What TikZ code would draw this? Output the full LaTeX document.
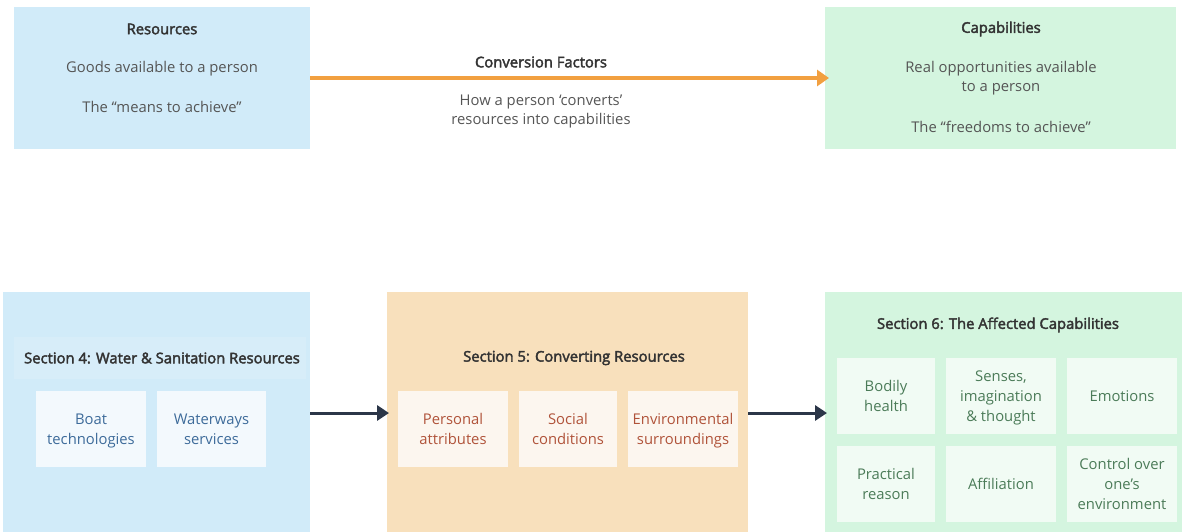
\documentclass[tikz,border=0pt]{standalone}
\usepackage{fontspec}
\setmainfont{Open Sans}[BoldFont={Open Sans}, BoldFeatures={FakeBold=2.6}]
\usetikzlibrary{arrows.meta}
\definecolor{blueBg}{HTML}{D1EBF9}
\definecolor{greenBg}{HTML}{D4F5DF}
\definecolor{orangeBg}{HTML}{F8E0BC}
\definecolor{blueIn}{HTML}{F3F9FD}
\definecolor{orangeIn}{HTML}{FCF6EF}
\definecolor{greenIn}{HTML}{F1FBF4}
\definecolor{blueTxt}{HTML}{3D6B9A}
\definecolor{orangeTxt}{HTML}{B0533A}
\definecolor{greenTxt}{HTML}{4B7B58}
\definecolor{titleTxt}{HTML}{333333}
\definecolor{bodyTxt}{HTML}{555555}
\definecolor{orangeArr}{HTML}{F2A040}
\definecolor{darkArr}{HTML}{2B3648}
\begin{document}
\begin{tikzpicture}[x=1pt,y=-1pt,
  every node/.style={inner sep=0pt, outer sep=0pt, font=\fontsize{14.8}{19}\selectfont},
  panel/.style={anchor=north west, draw=none},
  ttl/.style={text=titleTxt, font=\fontsize{14.8}{19}\selectfont\bfseries},
  body/.style={text=bodyTxt, align=center},
  item/.style={anchor=north west, align=center, text depth=0pt, font=\fontsize{14.8}{20}\selectfont},
  bitem/.style={item, fill=blueIn, text=blueTxt, minimum width=110pt, minimum height=76pt},
  oitem/.style={item, fill=orangeIn, text=orangeTxt, minimum height=76pt},
  gitem/.style={item, fill=greenIn, text=greenTxt, minimum height=76pt},
  oarr/.style={draw=orangeArr, line width=4pt, -{Triangle[length=12pt,width=16pt]}},
  darr/.style={draw=darkArr, line width=3pt, -{Triangle[length=12pt,width=15pt]}}
]
\useasboundingbox (0,0) rectangle (1182,531);

% top row
\node[panel, fill=blueBg, minimum width=296pt, minimum height=142pt] (res) at (14,7) {};
\node[panel, fill=greenBg, minimum width=351pt, minimum height=142pt] (cap) at (825,7) {};
\node[ttl] (resT) at (162,29) {Resources};
\node[body] (res1) at (162,69) {Goods available to a person};
\node[body] (res2) at (162,107) {The “means to achieve”};
\node[ttl] (capT) at (1001,29) {Capabilities};
\node[body] (cap1) at (1001,78.5) {Real opportunities available\\to a person};
\node[body] (cap2) at (1001,127) {The “freedoms to achieve”};
\draw[oarr] (res.east) -- ([xshift=4pt]cap.west);
\node[ttl] (cfT) at (541,62) {Conversion Factors};
\node[body] (cf1) at (541,111.5) {How a person ‘converts’\\resources into capabilities};

% bottom row
\node[panel, fill=blueBg, minimum width=307pt, minimum height=250pt] (s4) at (3,292) {};
\node[panel, fill=orangeBg, minimum width=361pt, minimum height=250pt] (s5) at (387,292) {};
\node[panel, fill=greenBg, minimum width=360pt, minimum height=250pt] (s6) at (825,292) {};
\node[panel, fill=blueIn, fill opacity=0.18, minimum width=292pt, minimum height=42pt] (s4band) at (14,337) {};
\node[ttl] (s4T) at (162,358) {Section 4: Water \& Sanitation Resources};
\node[ttl] (s5T) at (574,358) {Section 5: Converting Resources};
\node[ttl] (s6T) at (998,325) {Section 6: The Affected Capabilities};

\node[bitem] (boat) at (36,391) {Boat\\technologies};
\node[bitem, minimum width=109pt] (water) at (157,391) {Waterways\\services};

\node[oitem, minimum width=110pt] (pers) at (398,391) {Personal\\attributes};
\node[oitem, minimum width=98pt] (soc) at (519,391) {Social\\conditions};
\node[oitem, minimum width=110pt] (env) at (628,391) {Environmental\\surroundings};

\node[gitem, minimum width=98pt] (bod) at (837,358) {Bodily\\health};
\node[gitem, minimum width=110pt] (sens) at (946,358) {Senses,\\imagination\\\& thought};
\node[gitem, minimum width=110pt] (emo) at (1067,358) {Emotions};
\node[gitem, minimum width=98pt] (prac) at (837,446) {Practical\\reason};
\node[gitem, minimum width=110pt] (aff) at (946,446) {Affiliation};
\node[gitem, minimum width=110pt] (ctrl) at (1067,446) {Control over\\one’s\\environment};

\draw[darr] (s4.east |- 0,413) -- ([xshift=2pt]s5.west |- 0,413);
\draw[darr] (s5.east |- 0,413) -- ([xshift=2pt]s6.west |- 0,413);
\end{tikzpicture}
\end{document}
